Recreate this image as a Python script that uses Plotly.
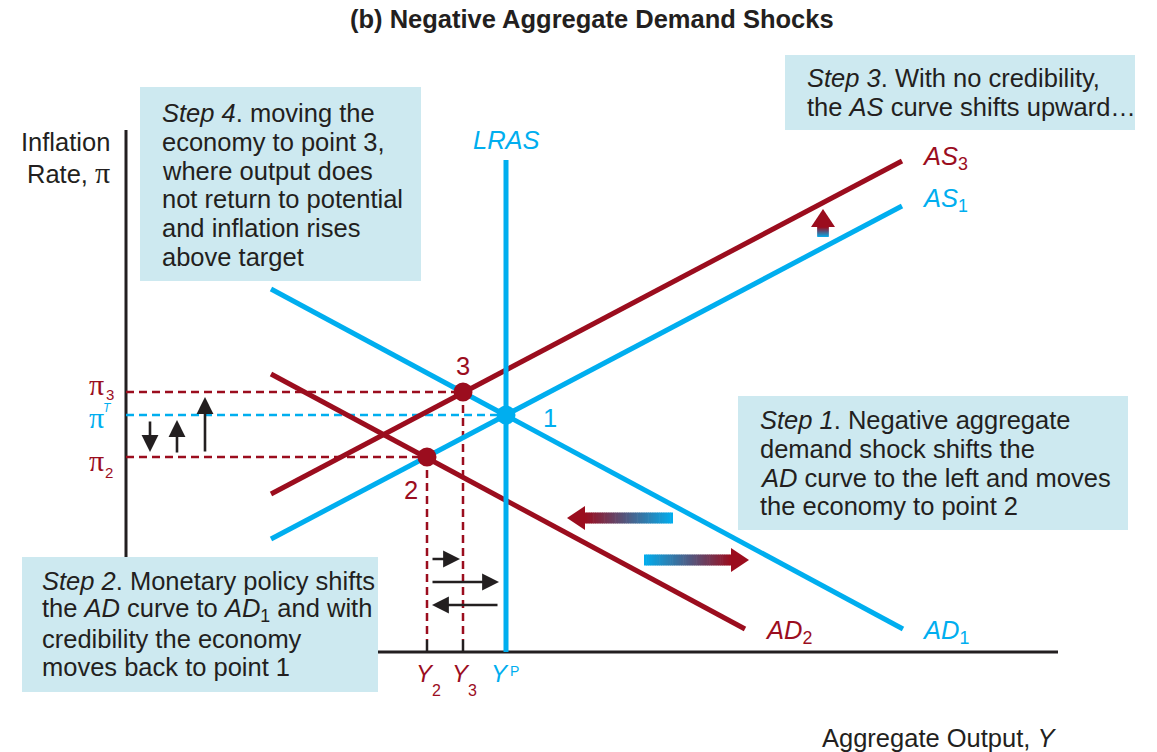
import plotly.graph_objects as go

# ---------------- data (diagram units: output on x, inflation on y) ----------------
Y_P, PI_T = 380, 237          # point 1 (potential output, inflation target)
Y_2, PI_2 = 301, 195          # point 2
Y_3, PI_3 = 337, 260          # point 3

AD1_x, AD1_y = [145, 777], [363, 23]
AD2_x, AD2_y = [145, 619], [278, 23]
AS1_x, AS1_y = [145, 776], [113, 446]
AS3_x, AS3_y = [145, 776], [158, 491]
LRAS_x, LRAS_y = [Y_P, Y_P], [0, 492]

AXIS_TOP = 522
AXIS_RIGHT = 932

point_x = [Y_P, Y_2, Y_3]
point_y = [PI_T, PI_2, PI_3]
point_lbl = ["1", "2", "3"]

# black movement arrows: (tail_x, tail_y, head_x, head_y)
pi_arrows = [(24, 232, 24, 200), (51, 198, 51, 232), (79, 199, 79, 255)]
y_arrows = [(305, 93, 334, 93), (305, 70, 373, 70), (373, 47, 306, 47)]

# gradient shift arrows: (tail_x, tail_y, head_x, head_y)
shift_arrows = [(547, 134, 441, 134), (518, 92, 623, 92), (697, 415, 697, 443)]

box_step4 = [14, 371, 295, 565]
box_step3 = [659, 522, 1009, 597]
box_step1 = [612, 122, 1002, 256]
box_step2 = [-104, -40, 252, 95]

step4_lines = ["<i>Step 4</i>. moving the", "economy to point 3,", "where output does",
               "not return to potential", "and inflation rises", "above target"]
step3_lines = ["<i>Step 3</i>. With no credibility,", "the <i>AS</i> curve shifts upward\u2026"]
step1_lines = ["<i>Step 1</i>. Negative aggregate", "demand shock shifts the",
               "<i>AD</i> curve to the left and moves", "the economy to point 2"]
step2_lines = ["<i>Step 2</i>. Monetary policy shifts", "the <i>AD</i> curve to <i>AD</i><sub>1</sub> and with",
               "credibility the economy", "moves back to point 1"]

# ---------------- style ----------------
BLUE = "#00aeef"
RED = "#9b0d1e"
INK = "#231f20"
BOXC = "#cde9f0"
FONT = "Liberation Sans, Arial, Helvetica, sans-serif"
SERIF = "Liberation Serif, Times New Roman, serif"
FS = 25.5

W, H = 1157, 752

fig = go.Figure()
shapes = []
ann = []

def line(x, y, color, width=5, dash=None):
    fig.add_trace(go.Scatter(x=x, y=y, mode="lines", hoverinfo="skip", showlegend=False,
                             line=dict(color=color, width=width, dash=dash)))

# axes
shapes.append(dict(type="line", x0=0, y0=0, x1=0, y1=AXIS_TOP, line=dict(color=INK, width=3), layer="below"))
shapes.append(dict(type="line", x0=0, y0=0, x1=AXIS_RIGHT, y1=0, line=dict(color=INK, width=3), layer="below"))

# dashed guides
DASH = "8px,5px"
line([0, Y_3], [PI_3, PI_3], RED, 2.5, DASH)
line([0, Y_P], [PI_T, PI_T], BLUE, 2.5, DASH)
line([0, Y_2], [PI_2, PI_2], RED, 2.5, DASH)
line([Y_2, Y_2], [PI_2, 12], RED, 2.5, DASH)
line([Y_3, Y_3], [PI_3, 12], RED, 2.5, DASH)
line([Y_2, Y_2], [12, 0], INK, 2.5)
line([Y_3, Y_3], [12, 0], INK, 2.5)

# curves
line(AD1_x, AD1_y, BLUE)
line(AS1_x, AS1_y, BLUE)
line(AD2_x, AD2_y, RED)
line(AS3_x, AS3_y, RED)
line(LRAS_x, LRAS_y, BLUE, 5)

# points
fig.add_trace(go.Scatter(x=point_x, y=point_y, mode="markers", hoverinfo="skip", showlegend=False,
                         marker=dict(size=19, color=[BLUE, RED, RED], line=dict(width=0))))

# gradient shift arrows
def hex2rgb(h):
    h = h.lstrip("#")
    return tuple(int(h[i:i + 2], 16) for i in (0, 2, 4))

c0, c1 = hex2rgb(BLUE), hex2rgb(RED)
HEAD_LEN, HEAD_HALF, BODY_HALF = 18, 12, 5.5
N = 40
for tx, ty, hx, hy in shift_arrows:
    horizontal = ty == hy
    if horizontal:
        d = 1 if hx > tx else -1
        bx = hx - d * HEAD_LEN
        for i in range(N):
            f = (i + 0.5) / N
            col = tuple(round(c0[k] + (c1[k] - c0[k]) * f) for k in range(3))
            xa = tx + (bx - tx) * i / N
            xb = tx + (bx - tx) * (i + 1) / N + d * 0.6
            shapes.append(dict(type="rect", x0=xa, x1=xb, y0=ty - BODY_HALF, y1=ty + BODY_HALF,
                               fillcolor="rgb(%d,%d,%d)" % col, line=dict(width=0), layer="above"))
        shapes.append(dict(type="path", path=f"M {bx},{ty - HEAD_HALF} L {hx},{hy} L {bx},{ty + HEAD_HALF} Z",
                           fillcolor=RED, line=dict(width=0), layer="above"))
    else:
        d = 1 if hy > ty else -1
        by = hy - d * HEAD_LEN
        for i in range(N):
            f = (i + 0.5) / N
            col = tuple(round(c0[k] + (c1[k] - c0[k]) * f) for k in range(3))
            ya = ty + (by - ty) * i / N
            yb = ty + (by - ty) * (i + 1) / N + d * 0.6
            shapes.append(dict(type="rect", y0=ya, y1=yb, x0=tx - BODY_HALF, x1=tx + BODY_HALF,
                               fillcolor="rgb(%d,%d,%d)" % col, line=dict(width=0), layer="above"))
        shapes.append(dict(type="path", path=f"M {tx - HEAD_HALF},{by} L {hx},{hy} L {tx + HEAD_HALF},{by} Z",
                           fillcolor=RED, line=dict(width=0), layer="above"))

# black arrows
for tx, ty, hx, hy in pi_arrows + y_arrows:
    ann.append(dict(x=hx, y=hy, ax=tx, ay=ty, xref="x", yref="y", axref="x", ayref="y", text="",
                    showarrow=True, arrowhead=2, arrowsize=1.3, arrowwidth=2.6, arrowcolor=INK, standoff=0))

# boxes
for b in (box_step4, box_step3, box_step1, box_step2):
    shapes.append(dict(type="rect", x0=b[0], y0=b[1], x1=b[2], y1=b[3], fillcolor=BOXC,
                       line=dict(width=0), layer="above"))

def text_lines(lines, x, y0, step=28.8):
    for i, t in enumerate(lines):
        ann.append(dict(x=x, y=y0 - i * step, text=t, xref="x", yref="y", showarrow=False,
                        xanchor="left", yanchor="middle", font=dict(family=FONT, size=FS, color=INK)))

text_lines(step4_lines, 34, 652 - 113)
text_lines(step3_lines, 679, 652 - 78)
text_lines(step1_lines, 632, 652 - 420)
text_lines(step2_lines, -86, 652 - 581)

def lab(x, y, t, color, xanchor="center", size=FS, yanchor="middle", family=FONT):
    ann.append(dict(x=x, y=y, text=t, xref="x", yref="y", showarrow=False, xanchor=xanchor,
                    yanchor=yanchor, font=dict(family=family, size=size, color=color)))

# curve labels
lab(Y_P, 512, "<i>LRAS</i>", BLUE)
lab(794, 494, "<i>AS</i><sub>3</sub>", RED, "left")
lab(794, 452, "<i>AS</i><sub>1</sub>", BLUE, "left")
lab(637, 20, "<i>AD</i><sub>2</sub>", RED, "left")
lab(794, 20, "<i>AD</i><sub>1</sub>", BLUE, "left")

# point labels
lab(Y_P + 44, PI_T - 3, point_lbl[0], BLUE)
lab(Y_2 - 16, PI_2 - 33, point_lbl[1], RED)
lab(Y_3, PI_3 + 26, point_lbl[2], RED)

# axis value labels (symbol + separate index)
lab(-30, PI_3 + 8, "\u03c0", RED, family=SERIF, size=30)
lab(-16, PI_3 - 2, "3", RED, size=15)
lab(-30, PI_T - 2, "\u03c0", BLUE, family=SERIF, size=30)
lab(-19, PI_T + 7, "<i>T</i>", BLUE, size=12)
lab(-30, PI_2 - 3, "\u03c0", RED, family=SERIF, size=30)
lab(-17, PI_2 - 15, "2", RED, size=15)

lab(Y_2 - 2, -21, "<i>Y</i>", RED, size=24)
lab(Y_2 + 9, -38, "2", RED, size=16)
lab(Y_3 - 2, -21, "<i>Y</i>", RED, size=24)
lab(Y_3 + 9, -38, "3", RED, size=16)
lab(Y_P - 6, -21, "<i>Y</i>", BLUE, size=24)
lab(Y_P + 8, -19, "P", BLUE, size=14)

# axis titles
lab(-14, 652 - 142, "Inflation", INK, "right")
lab(-14, 652 - 172, "Rate, <span style='font-family:Liberation Serif;font-size:30px'>\u03c0</span>", INK, "right")
lab(932, 652 - 738, "Aggregate Output, <i>Y</i>", INK, "right")

# title
ann.append(dict(x=592 / W, y=1 - 19 / H, xref="paper", yref="paper", showarrow=False, borderpad=0,
                text="<b>(b) Negative Aggregate Demand Shocks</b>", xanchor="center", yanchor="middle",
                font=dict(family=FONT, size=FS, color=INK)))

fig.update_layout(
    width=W, height=H, margin=dict(l=0, r=0, t=0, b=0),
    paper_bgcolor="white", plot_bgcolor="white", showlegend=False,
    xaxis=dict(range=[-126, -126 + W], visible=False, fixedrange=True),
    yaxis=dict(range=[652 - H, 652], visible=False, fixedrange=True),
    shapes=shapes, annotations=ann,
)

# remove the default 8px page margin so the figure fills the window exactly
fig.write_html("out.html", config={"displayModeBar": False, "staticPlot": True},
               post_script="document.body.style.margin='0';document.body.style.overflow='hidden';")
